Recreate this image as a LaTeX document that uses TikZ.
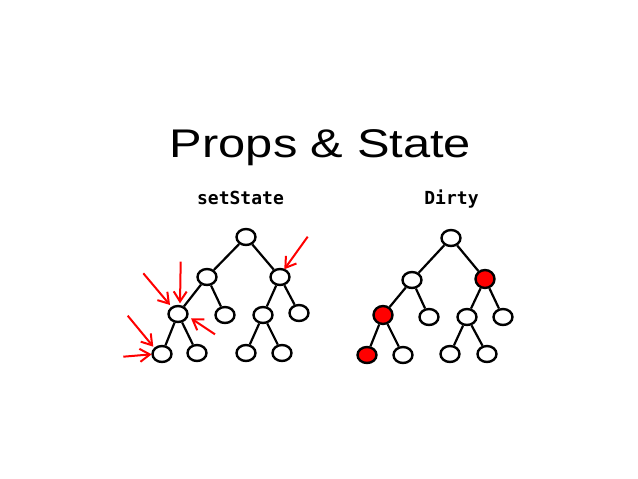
\documentclass[tikz,border=0pt]{standalone}
\usepackage{fontspec}
\setmainfont{Liberation Sans}
\newfontfamily\handfont{DejaVu Sans Mono}
\newfontfamily\titlefont[FakeStretch=1.22]{Liberation Sans}
\usetikzlibrary{shapes.geometric,arrows.meta}
\tikzset{
  tnode/.style={draw=black, ellipse, line width=2.4pt, minimum width=19pt, minimum height=16pt, inner sep=0pt, fill=white},
  dirtynode/.style={tnode, fill=red, minimum width=19pt, minimum height=18pt},
  tedge/.style={draw=black, line width=2.2pt},
  redarrow/.style={draw=red, line width=2pt, -{Straight Barb[length=10pt,width=13pt,line width=2pt]}},
  lbl/.style={font=\handfont\bfseries\fontsize{18}{20}\selectfont, inner sep=0pt, anchor=base},
  ttl/.style={font=\titlefont\fontsize{40}{44}\selectfont, inner sep=0pt, anchor=base}
}
\begin{document}
\begin{tikzpicture}[x=1pt,y=-1pt]
\useasboundingbox (0,0) rectangle (638,479);
\node[ttl] (title) at (320.5,157) {Props \& State};
\node[lbl] (l1) at (240.5,204) {setState};
\node[lbl] (l2) at (451.5,204) {Dirty};
% left tree
\node[tnode] (a) at (246,237) {};
\node[tnode] (b) at (207,277) {};
\node[tnode] (c) at (280,277) {};
\node[tnode] (d) at (178,314) {};
\node[tnode] (e) at (225,315) {};
\node[tnode] (f) at (263,315) {};
\node[tnode] (g) at (299,313) {};
\node[tnode] (h) at (162,354) {};
\node[tnode] (i) at (197,353) {};
\node[tnode] (j) at (246,353) {};
\node[tnode] (k) at (282,353) {};
\draw[tedge] (a) -- (b);
\draw[tedge] (a) -- (c);
\draw[tedge] (b) -- (d);
\draw[tedge] (b) -- (e);
\draw[tedge] (c) -- (f);
\draw[tedge] (c) -- (g);
\draw[tedge] (d) -- (h);
\draw[tedge] (d) -- (i);
\draw[tedge] (f) -- (j);
\draw[tedge] (f) -- (k);
% red arrows
\coordinate (s1) at (307.7,236.7);
\coordinate (s2) at (143.3,273.3);
\coordinate (s3) at (180.7,261.7);
\coordinate (s4) at (215,334.3);
\coordinate (s5) at (127.7,315.7);
\coordinate (s6) at (123.3,356.7);
\coordinate (t1) at (284.3,269.3);
\coordinate (t2) at (170,305);
\coordinate (t3) at (180,303.3);
\coordinate (t4) at (191,318.3);
\coordinate (t5) at (153.3,346.7);
\coordinate (t6) at (151.7,354.3);
\draw[redarrow] (s1) -- (t1);
\draw[redarrow] (s2) -- (t2);
\draw[redarrow] (s3) -- (t3);
\draw[redarrow] (s4) -- (t4);
\draw[redarrow] (s5) -- (t5);
\draw[redarrow] (s6) -- (t6);
% right tree
\node[tnode] (A) at (451,238) {};
\node[tnode] (B) at (412,280) {};
\node[dirtynode] (C) at (485,279) {};
\node[dirtynode] (D) at (383,315) {};
\node[tnode] (E) at (429,317) {};
\node[tnode] (F) at (467,317) {};
\node[tnode] (G) at (503,317) {};
\node[dirtynode, minimum height=16pt] (H) at (367,355) {};
\node[tnode] (I) at (403,355) {};
\node[tnode] (J) at (450,354) {};
\node[tnode] (K) at (487,354) {};
\draw[tedge] (A) -- (B);
\draw[tedge] (A) -- (C);
\draw[tedge] (B) -- (D);
\draw[tedge] (B) -- (E);
\draw[tedge] (C) -- (F);
\draw[tedge] (C) -- (G);
\draw[tedge] (D) -- (H);
\draw[tedge] (D) -- (I);
\draw[tedge] (F) -- (J);
\draw[tedge] (F) -- (K);
\end{tikzpicture}
\end{document}
